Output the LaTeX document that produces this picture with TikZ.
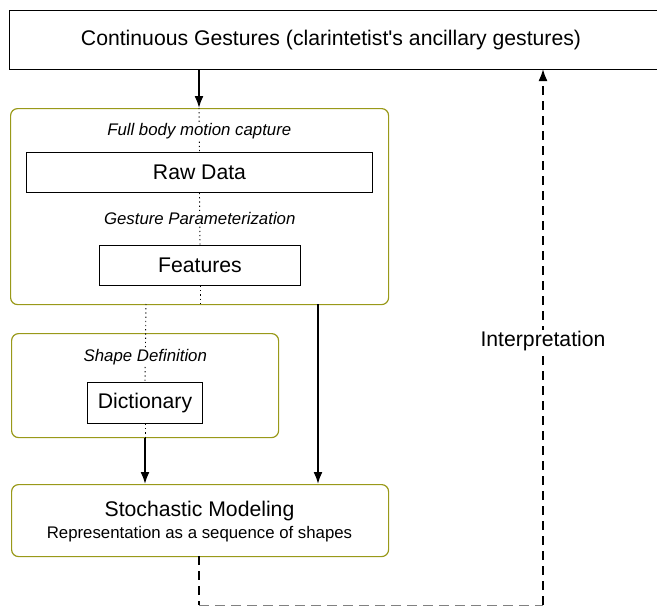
\documentclass[tikz,border=0pt]{standalone}
\usepackage{fontspec}
\setmainfont{Liberation Sans}
\usetikzlibrary{arrows.meta}
\definecolor{olivegreen}{RGB}{153,153,25}
\begin{document}
\begin{tikzpicture}[x=1pt,y=-1pt,
    plain/.style={draw,line width=1pt,inner sep=0pt},
    group/.style={draw=olivegreen,line width=1.2pt,rounded corners=7pt,inner sep=0pt},
    stage/.style={font=\itshape\fontsize{16.8}{18}\selectfont,fill=white,inner sep=1pt},
    big/.style={font=\fontsize{21.2}{24}\selectfont},
    dots/.style={line width=0.9pt,dash pattern=on 1.2pt off 3pt},
    flow/.style={-{Latex[length=12pt,width=9pt]},line width=1.8pt}]
  \useasboundingbox (0,0) rectangle (657,608);
  \clip (0,0) rectangle (657,608);
  % boxes
  \node[plain,minimum width=660pt,minimum height=59pt,anchor=north west] (gest) at (9,10) {};
  \node[big] (gesttxt) at (331,40) {Continuous Gestures (clarintetist\textquotesingle s ancillary gestures)};
  \node[group,minimum width=378pt,minimum height=196pt,anchor=north west] (capt) at (10,108) {};
  \node[plain,big,minimum width=346pt,minimum height=40pt,anchor=north west] (raw) at (26,152) {Raw Data};
  \node[plain,big,minimum width=201pt,minimum height=40pt,anchor=north west] (feat) at (99,245) {Features};
  \node[group,minimum width=267pt,minimum height=104pt,anchor=north west] (shape) at (11,333) {};
  \node[plain,big,minimum width=115pt,minimum height=41pt,anchor=north west] (dict) at (87,382) {Dictionary};
  \node[group,minimum width=377pt,minimum height=72pt,anchor=north west] (stoch) at (11,484) {};
  \node[big,inner sep=0pt] (stochtxt) at (199.5,511) {Stochastic Modeling};
  \node[inner sep=0pt,font=\fontsize{16.8}{18}\selectfont] (stochsub) at (199.5,534) {Representation as a sequence of shapes};
  % dotted links
  \coordinate (f0) at (146,304);
  \draw[dots] (199,108) -- (raw.north) node[stage,pos=0.52] (l1) {Full body motion capture};
  \draw[dots] (raw.south) -- (feat.north) node[stage,pos=0.49] (l2) {Gesture Parameterization};
  \draw[dots] (feat.south) -- (feat.south |- capt.south);
  \draw[dots] (f0) -- (dict.north) node[stage,pos=0.68] (l3) {Shape Definition};
  \draw[dots] (dict.south) -- (dict.south |- shape.south);
  % arrows
  \draw[flow] (199,69) -- (199,108);
  \draw[flow] (dict.south |- shape.south) -- (dict.south |- stoch.north);
  \draw[flow] (318,304) -- (318,484);
  \coordinate (c1) at (199,605);
  \coordinate (c2) at (543,605);
  \draw[line width=1.8pt,dash pattern=on 9pt off 6pt] (199,556) -- (c1);
  \draw[gray,line width=1pt,dash pattern=on 10pt off 6pt] (c1) -- (c2);
  \draw[flow,dash pattern=on 9pt off 6pt] (c2) -- (543,69)
    node[pos=0.492,fill=white,inner sep=1pt,big] (interp) {Interpretation};
\end{tikzpicture}
\end{document}
